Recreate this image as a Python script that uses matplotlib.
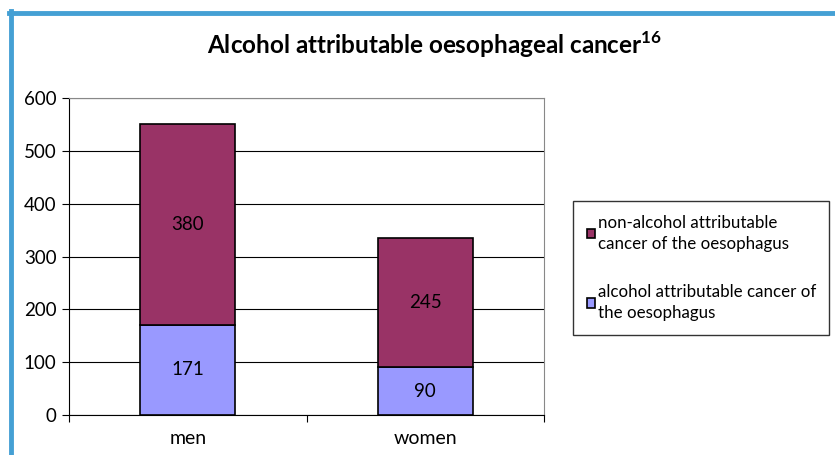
import numpy as np
import matplotlib.pyplot as plt
from matplotlib.lines import Line2D

plt.rcParams['font.family'] = ['Lato', 'DejaVu Sans']
plt.rcParams['mathtext.fontset'] = 'custom'
plt.rcParams['mathtext.rm'] = 'Lato:bold'
plt.rcParams['mathtext.bf'] = 'Lato:bold'

groups = ['men', 'women']
alcohol = [171, 90]
non_alcohol = [380, 245]
lab_non = 'non-alcohol attributable\ncancer of the oesophagus'
lab_alc = 'alcohol attributable cancer of\nthe oesophagus'

fig = plt.figure(figsize=(8.35, 4.55), dpi=100)
ax = fig.add_axes([69/835, 40/455, 475/835, 317/455])

x = np.arange(len(groups))
b1 = ax.bar(x, alcohol, width=0.4, color='#9999ff', edgecolor='black', linewidth=1.2,
            label=lab_alc, zorder=3)
b2 = ax.bar(x, non_alcohol, width=0.4, bottom=alcohol, color='#993366', edgecolor='black',
            linewidth=1.2, label=lab_non, zorder=3)

for i in range(len(groups)):
    ax.text(x[i], alcohol[i] / 2, str(alcohol[i]), ha='center', va='center', fontsize=13.5, zorder=4)
    ax.text(x[i], alcohol[i] + non_alcohol[i] / 2, str(non_alcohol[i]), ha='center',
            va='center', fontsize=13.5, zorder=4)

ax.set_xlim(-0.5, 1.5)
ax.set_ylim(0, 600)
ax.set_yticks(range(0, 601, 100))
ax.yaxis.grid(True, color='black', linewidth=0.8, zorder=0)
ax.tick_params(axis='y', labelsize=13.5, length=5, direction='out', pad=4)

ax.set_xticks([-0.5, 0.5, 1.5])
ax.set_xticklabels([])
ax.set_xticks(x, minor=True)
ax.set_xticklabels(groups, minor=True, fontsize=14)
ax.tick_params(axis='x', which='major', length=5, direction='out')
ax.tick_params(axis='x', which='minor', length=0, pad=11)

for s in ['top', 'right']:
    ax.spines[s].set_color('#888888')
for s in ['left', 'bottom']:
    ax.spines[s].set_color('black')

h, l = ax.get_legend_handles_labels()
leg = fig.legend(h[::-1], l[::-1], loc='upper left', bbox_to_anchor=(573/835, 1 - 201/455),
                 fontsize=12.2, frameon=True, fancybox=False, edgecolor='black',
                 handlelength=0.5, handleheight=0.5, handletextpad=0.15,
                 labelspacing=1.9, borderpad=0.8, borderaxespad=0)
leg.get_frame().set_linewidth(1.0)
for t in leg.get_texts():
    t.set_linespacing(1.4)

fig.text(435/835, 1 - 45/455, r'Alcohol attributable oesophageal cancer$^{16}$',
         ha='center', va='center', fontsize=17.5, fontweight='bold')

fig.add_artist(Line2D([9/835, 1], [1 - 13/455, 1 - 13/455], color='#45a0d4', linewidth=3.5))
fig.add_artist(Line2D([10.5/835, 10.5/835], [0, 1 - 11/455], color='#45a0d4', linewidth=3.5))

fig.savefig('out.png', dpi=100)
